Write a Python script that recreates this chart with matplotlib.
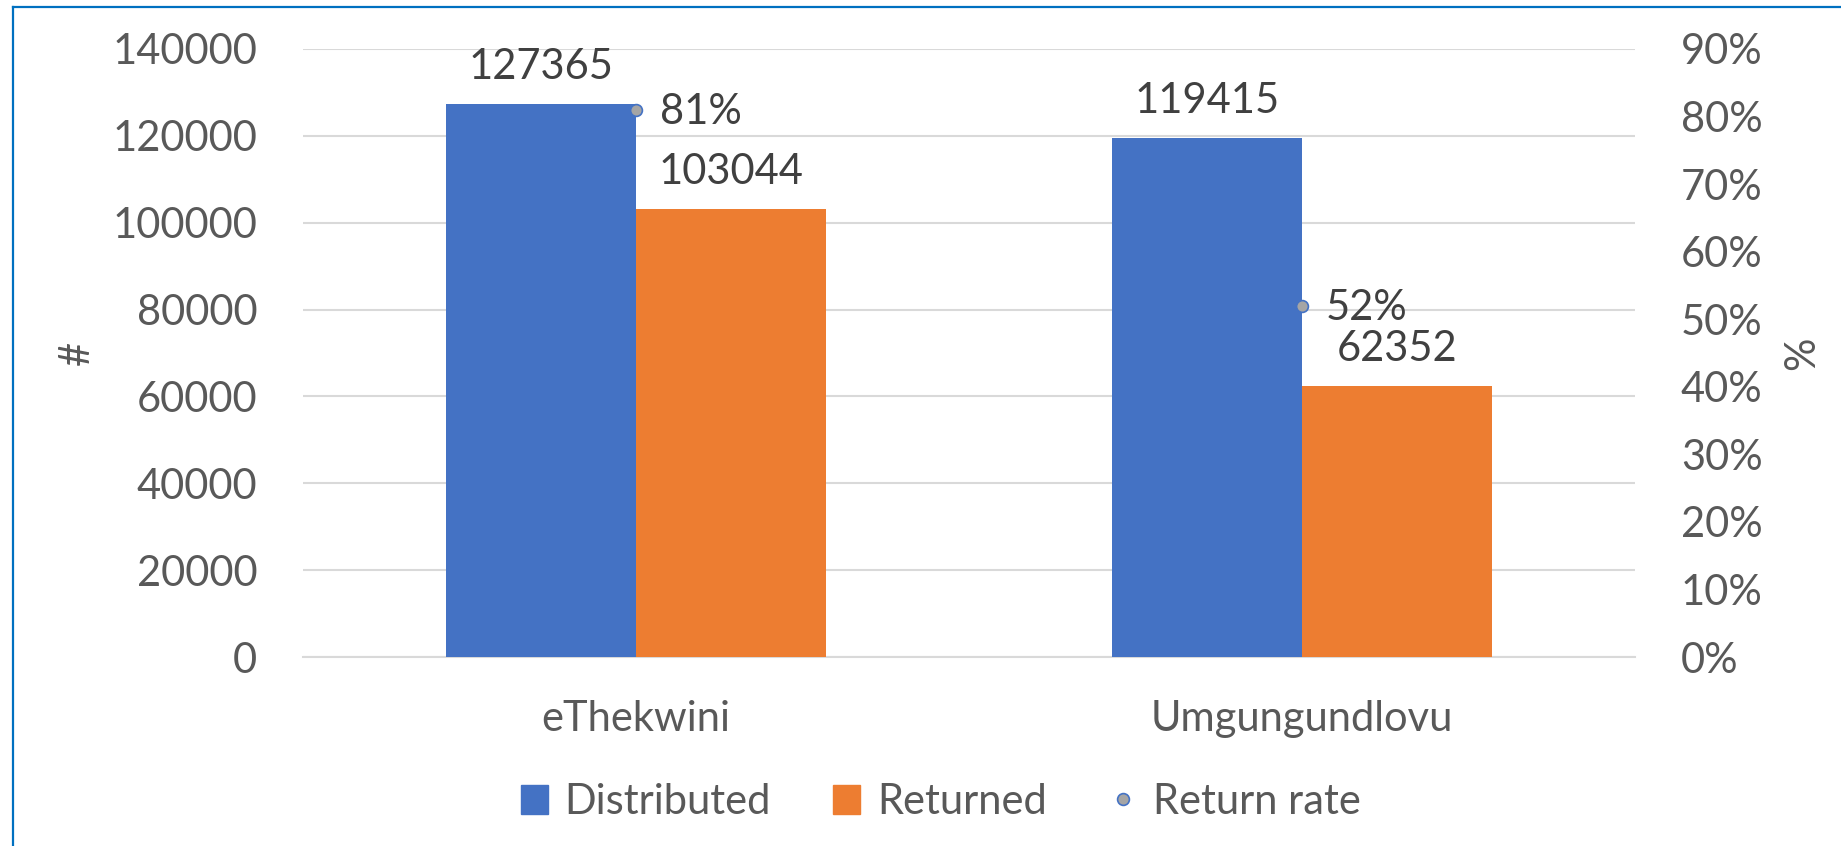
import numpy as np
import matplotlib
matplotlib.use("Agg")
import matplotlib.pyplot as plt
from matplotlib.patches import Rectangle
from matplotlib.lines import Line2D
from matplotlib.ticker import FuncFormatter, MultipleLocator

plt.rcParams["font.family"] = ["Lato", "DejaVu Sans"]

# data
categories = ["eThekwini", "Umgungundlovu"]
distributed = [127365, 119415]
returned = [103044, 62352]
return_rate = [0.81, 0.52]

BLUE = "#4472C4"
ORANGE = "#ED7D31"
GREY_MARK = "#A5A5A5"
TICK_COL = "#595959"
LABEL_COL = "#404040"
FS = 30

fig = plt.figure(figsize=(18.41, 8.46), dpi=100)
ax = fig.add_axes([0.1646, 0.2234, 0.7235, 0.7187])
ax2 = ax.twinx()

x = np.arange(len(categories))
w = 0.2853
ax.bar(x - w / 2, distributed, width=w, color=BLUE, zorder=3)
ax.bar(x + w / 2, returned, width=w, color=ORANGE, zorder=3)

ax.set_xlim(-0.5, len(categories) - 0.5)
ax.set_ylim(0, 140000)
ax.yaxis.set_major_locator(MultipleLocator(20000))
ax.grid(axis="y", color="#D9D9D9", lw=1.5, zorder=0)
ax.set_axisbelow(True)
ax.set_xticks(x)
ax.set_xticklabels(categories)
ax.tick_params(axis="x", length=0, pad=31, labelsize=FS, labelcolor=TICK_COL)
ax.tick_params(axis="y", length=0, pad=33, labelsize=FS, labelcolor=TICK_COL)
for s in ax.spines.values():
    s.set_visible(False)
ax.spines["bottom"].set_visible(True)
ax.spines["bottom"].set_color("#D9D9D9")
ax.spines["bottom"].set_linewidth(1.5)

# return rate on secondary axis
ax2.set_ylim(0, 0.9)
ax2.yaxis.set_major_locator(MultipleLocator(0.1))
ax2.yaxis.set_major_formatter(FuncFormatter(lambda v, p: f"{v * 100:.0f}%"))
ax2.tick_params(axis="y", length=0, pad=33, labelsize=FS, labelcolor=TICK_COL)
for s in ax2.spines.values():
    s.set_visible(False)
ax2.plot(x, return_rate, ls="none", marker="o", ms=8.5, mfc=GREY_MARK,
         mec=BLUE, mew=1.2, zorder=5)

# data labels
for i in range(len(categories)):
    ax.annotate(f"{distributed[i]}", (x[i] - w / 2, distributed[i]), xytext=(0, 18),
                textcoords="offset points", ha="center", va="baseline",
                fontsize=FS, color=LABEL_COL)
    ax.annotate(f"{returned[i]}", (x[i] + w / 2, returned[i]), xytext=(0, 18),
                textcoords="offset points", ha="center", va="baseline",
                fontsize=FS, color=LABEL_COL)
    ax2.annotate(f"{return_rate[i] * 100:.0f}%", (x[i], return_rate[i]), xytext=(17, -10.5),
                 textcoords="offset points", ha="left", va="baseline",
                 fontsize=FS, color=LABEL_COL)

fig.text(0.0418, 0.583, "#", rotation=90, ha="center", va="center", fontsize=FS, color=TICK_COL)
fig.text(0.979, 0.583, "%", rotation=90, ha="center", va="center", fontsize=FS, color=TICK_COL)

handles = [
    Rectangle((0, 0), 1, 1, color=BLUE),
    Rectangle((0, 0), 1, 1, color=ORANGE),
    Line2D([], [], ls="none", marker="o", ms=8.5, mfc=GREY_MARK, mec=BLUE, mew=1.2),
]
leg = fig.legend(handles, ["Distributed", "Returned", "Return rate"], loc="center",
                 bbox_to_anchor=(0.511, 0.052), ncol=3, frameon=False, fontsize=FS,
                 handlelength=0.65, handleheight=0.7, handletextpad=0.4,
                 columnspacing=1.5, labelcolor=TICK_COL)

# chart border (left and top only)
fig.add_artist(Line2D([0.0069, 0.0069], [0, 0.9923], transform=fig.transFigure,
                      color="#0070C0", lw=1.6))
fig.add_artist(Line2D([0.0069, 1.0], [0.9923, 0.9923], transform=fig.transFigure,
                      color="#0070C0", lw=1.6))

fig.savefig("out.png", dpi=100)
